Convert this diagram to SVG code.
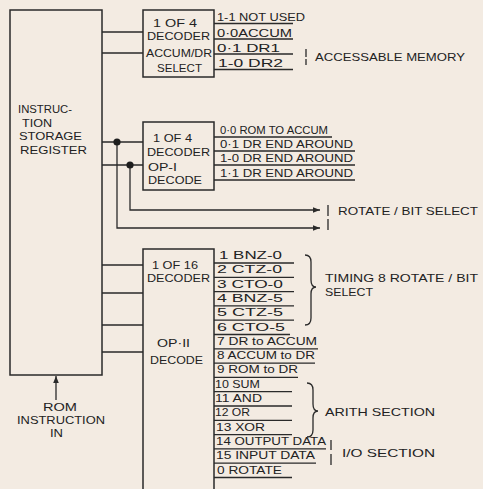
<svg xmlns="http://www.w3.org/2000/svg" width="483" height="489" viewBox="0 0 483 489">
<defs>
<marker id="ah" viewBox="0 0 10 10" refX="10" refY="5" markerWidth="8" markerHeight="7" markerUnits="userSpaceOnUse" orient="auto"><path d="M0,1 L10,5 L0,9 z" fill="#2a2a2a"/></marker>
</defs>
<style>
.ln{stroke:#2a2a2a;stroke-width:1.3;fill:none}
.bx{stroke:#2a2a2a;stroke-width:1.5;fill:none}
text{font-family:"Liberation Sans",Arial,sans-serif;font-size:11px;fill:#222}
.dot{fill:#1e1e1e}
</style>
<rect width="483" height="489" fill="#f3ebe2"/>

<g id="register">
<rect class="bx" x="10" y="10" width="92" height="365"/>
<text x="18" y="113" textLength="54" lengthAdjust="spacingAndGlyphs">INSTRUC-</text>
<text x="22" y="126.5" textLength="30" lengthAdjust="spacingAndGlyphs">TION</text>
<text x="19" y="140" textLength="63" lengthAdjust="spacingAndGlyphs">STORAGE</text>
<text x="20" y="154" textLength="67" lengthAdjust="spacingAndGlyphs">REGISTER</text>
</g>

<g id="rom-input">
<text x="43" y="411" textLength="34" lengthAdjust="spacingAndGlyphs">ROM</text>
<text x="17" y="424" textLength="88" lengthAdjust="spacingAndGlyphs">INSTRUCTION</text>
<text x="50" y="437" textLength="13" lengthAdjust="spacingAndGlyphs">IN</text>
</g>

<g id="decoder-accum-dr">
<rect class="bx" x="143" y="10" width="71" height="67"/>
<text x="153" y="27" textLength="44" lengthAdjust="spacingAndGlyphs">1 OF 4</text>
<text x="147" y="40" textLength="63" lengthAdjust="spacingAndGlyphs">DECODER</text>
<text x="146" y="57" textLength="66" lengthAdjust="spacingAndGlyphs">ACCUM/DR</text>
<text x="157" y="72" textLength="45" lengthAdjust="spacingAndGlyphs">SELECT</text>
</g>

<g id="accum-dr-outputs">
<text x="217" y="21" textLength="88" lengthAdjust="spacingAndGlyphs">1-1 NOT USED</text>
<text x="217" y="37" textLength="75" lengthAdjust="spacingAndGlyphs">0·0ACCUM</text>
<text x="217" y="52" textLength="63" lengthAdjust="spacingAndGlyphs">0·1 DR1</text>
<text x="218" y="67" textLength="65" lengthAdjust="spacingAndGlyphs">1-0 DR2</text>
<path class="ln" d="M214,23.5H293M214,39H293M214,54H293M214,69.5H293"/>
<path class="ln" d="M306,49V57M306,59V65"/>
<text x="315" y="61" textLength="150" lengthAdjust="spacingAndGlyphs">ACCESSABLE MEMORY</text>
</g>

<g id="decoder-op1">
<rect class="bx" x="143" y="122" width="71" height="68"/>
<text x="153" y="142" textLength="39" lengthAdjust="spacingAndGlyphs">1 OF 4</text>
<text x="147" y="156" textLength="63" lengthAdjust="spacingAndGlyphs">DECODER</text>
<text x="148" y="171" textLength="29" lengthAdjust="spacingAndGlyphs">OP-I</text>
<text x="148" y="184" textLength="54" lengthAdjust="spacingAndGlyphs">DECODE</text>
</g>

<g id="op1-outputs">
<text x="220" y="134" textLength="108" lengthAdjust="spacingAndGlyphs">0·0 ROM TO ACCUM</text>
<text x="220" y="148" textLength="133" lengthAdjust="spacingAndGlyphs">0·1 DR END AROUND</text>
<text x="220" y="162" textLength="133" lengthAdjust="spacingAndGlyphs">1-0 DR END AROUND</text>
<text x="220" y="177" textLength="133" lengthAdjust="spacingAndGlyphs">1·1 DR END AROUND</text>
<path class="ln" d="M214,137H332M214,151H355M214,165H355M214,180H355"/>
</g>

<g id="rotate-bit-select">
<path class="ln" d="M328,205V216M328,219V230"/>
<text x="338" y="215" textLength="140" lengthAdjust="spacingAndGlyphs">ROTATE / BIT SELECT</text>
</g>

<g id="decoder-op2">
<path class="bx" d="M143,489V249H214V489"/>
<text x="152" y="269" textLength="46" lengthAdjust="spacingAndGlyphs">1 OF 16</text>
<text x="147" y="282" textLength="63" lengthAdjust="spacingAndGlyphs">DECODER</text>
<text x="157" y="347" textLength="33" lengthAdjust="spacingAndGlyphs">OP·II</text>
<text x="150" y="364" textLength="53" lengthAdjust="spacingAndGlyphs">DECODE</text>
</g>

<g id="op2-outputs">
<text x="219" y="259" textLength="63" lengthAdjust="spacingAndGlyphs">1  BNZ-0</text>
<text x="217" y="273.3" textLength="65" lengthAdjust="spacingAndGlyphs">2  CTZ-0</text>
<text x="217" y="287.6" textLength="66" lengthAdjust="spacingAndGlyphs">3  CTO-0</text>
<text x="217" y="301.9" textLength="66" lengthAdjust="spacingAndGlyphs">4  BNZ-5</text>
<text x="217" y="316.2" textLength="66" lengthAdjust="spacingAndGlyphs">5  CTZ-5</text>
<text x="217" y="330.5" textLength="68" lengthAdjust="spacingAndGlyphs">6  CTO-5</text>
<text x="217" y="344.8" textLength="100" lengthAdjust="spacingAndGlyphs">7  DR to ACCUM</text>
<text x="217" y="359.1" textLength="98" lengthAdjust="spacingAndGlyphs">8 ACCUM to DR</text>
<text x="217" y="373.4" textLength="81" lengthAdjust="spacingAndGlyphs">9 ROM to DR</text>
<text x="215" y="387.7" textLength="45" lengthAdjust="spacingAndGlyphs">10 SUM</text>
<text x="215" y="402" textLength="47" lengthAdjust="spacingAndGlyphs">11 AND</text>
<text x="215" y="416.3" textLength="35" lengthAdjust="spacingAndGlyphs">12 OR</text>
<text x="216" y="430.6" textLength="49" lengthAdjust="spacingAndGlyphs">13 XOR</text>
<text x="216" y="444.9" textLength="110" lengthAdjust="spacingAndGlyphs">14 OUTPUT DATA</text>
<text x="216" y="459.2" textLength="99" lengthAdjust="spacingAndGlyphs">15 INPUT DATA</text>
<text x="217" y="473.5" textLength="65" lengthAdjust="spacingAndGlyphs">0 ROTATE</text>
<path class="ln" d="M214,263H294M214,277.3H294M214,291.6H294M214,305.9H294M214,320.2H294M214,334.5H290M214,348.8H318M214,363.1H315M214,377.4H298M214,391.7H292M214,406H292M214,420.3H292M214,434.6H292M214,448.9H326M214,463.2H316M214,477.5H292"/>
<path class="ln" d="M305,255Q311,255 311,262V280Q311,287 316,287Q311,287 311,294V318Q311,325 305,325"/>
<text x="325" y="282" textLength="153" lengthAdjust="spacingAndGlyphs">TIMING 8 ROTATE / BIT</text>
<text x="325" y="296" textLength="48" lengthAdjust="spacingAndGlyphs">SELECT</text>
<path class="ln" d="M307,383Q313,383 313,390V404Q313,411 318,411Q313,411 313,418V430Q313,437 307,437"/>
<text x="325" y="416" textLength="110" lengthAdjust="spacingAndGlyphs">ARITH  SECTION</text>
<path class="ln" d="M331,440V450M331,454V465"/>
<text x="342" y="457" textLength="93" lengthAdjust="spacingAndGlyphs">I/O SECTION</text>
</g>

<g id="connectors">
<path class="ln" d="M102,32H143M102,53H143"/>
<path class="ln" d="M102,142H143M102,165H143"/>
<path class="ln" d="M117,142V228H320" marker-end="url(#ah)"/>
<path class="ln" d="M130,165V210H320" marker-end="url(#ah)"/>
<circle class="dot" cx="117" cy="142" r="3.6"/>
<circle class="dot" cx="130" cy="165" r="3.6"/>
<path class="ln" d="M102,265H143M102,293H143M102,325H143M102,352H143"/>
<path class="ln" d="M56,400V376" marker-end="url(#ah)"/>
</g>
</svg>
